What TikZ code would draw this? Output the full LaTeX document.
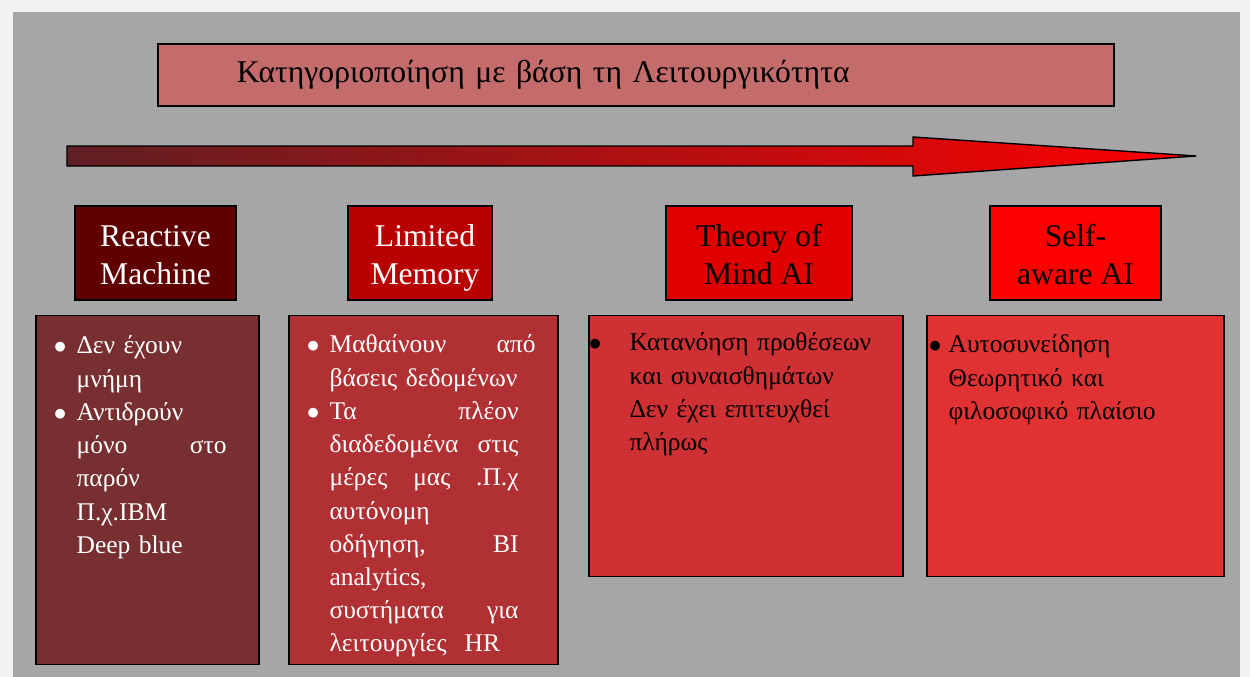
\documentclass[tikz,border=0pt]{standalone}
\usepackage{fontspec}
\setmainfont{Liberation Serif}
\usetikzlibrary{positioning}
\definecolor{pagebg}{RGB}{242,242,242}
\definecolor{canvas}{RGB}{166,166,166}
\definecolor{titlebg}{RGB}{196,107,107}
\definecolor{arrowdark}{RGB}{95,31,35}
\definecolor{kind1}{RGB}{96,0,0}
\definecolor{kind2}{RGB}{184,0,0}
\definecolor{kind3}{RGB}{224,0,0}
\definecolor{kind4}{RGB}{255,0,0}
\definecolor{panel1}{RGB}{119,47,49}
\definecolor{panel2}{RGB}{176,48,51}
\definecolor{panel3}{RGB}{207,48,51}
\definecolor{panel4}{RGB}{224,49,51}
\newcommand{\itm}[1]{\makebox[0pt][r]{$\bullet$\hspace{#1}}}
\newcommand{\twolines}[2]{\rule{0pt}{18pt}#1\\#2\rule[-3.8pt]{0pt}{3.8pt}}

\begin{document}
\begin{tikzpicture}[
    banner/.style={
        rectangle, draw=black, line width=1.1pt, fill=titlebg,
        minimum height=1.24cm, text width=15.96cm, inner xsep=1.58cm, inner ysep=0pt,
        align=left, font=\fontsize{18}{22}\selectfont
    },
    kind/.style={
        rectangle, draw=black, line width=1.1pt, minimum height=1.88cm,
        inner sep=0pt, align=center, font=\fontsize{18}{22}\selectfont
    },
    panel/.style={
        rectangle, draw=black, line width=0.85pt, inner sep=0pt
    },
    notes/.style={
        anchor=base west, inner sep=0pt, align=left, font=\fontsize{14.5}{18.9}\selectfont
    }
]

% Background
\fill[pagebg] (0,0) rectangle (25,-13.54);
\fill[canvas] (0.26,-0.24) rectangle (24.8,-13.54);

% Title
\node[banner, anchor=north west] (title) at (3.14,-0.86) {Κατηγοριοποίηση με βάση τη Λειτουργικότητα};

% Big arrow
\shade[left color=arrowdark, right color=kind4, draw=black, line width=0.8pt]
    (1.34,-2.92) -- (18.26,-2.92) -- (18.26,-2.74) -- (23.92,-3.12)
    -- (18.26,-3.52) -- (18.26,-3.32) -- (1.34,-3.32) -- cycle;

% Categories
\node[kind, fill=kind1, text=white, minimum width=3.22cm] (reactive) at (3.11,-5.06) {\twolines{Reactive}{Machine}};
\node[kind, fill=kind2, text=white, minimum width=2.88cm] (limited) at (8.4,-5.06) {\twolines{\kern0.2cm Limited}{\kern0.2cm Memory}};
\node[kind, fill=kind3, minimum width=3.72cm] (theory) at (15.18,-5.06) {\twolines{Theory of}{Mind AI}};
\node[kind, fill=kind4, minimum width=3.42cm] (selfaware) at (21.51,-5.06) {\twolines{Self-}{aware AI}};

% Panels
\node[panel, fill=panel1, minimum width=4.46cm, minimum height=6.98cm, below=0.28cm of reactive, xshift=-0.16cm] (p1) {};
\node[panel, fill=panel2, minimum width=5.38cm, minimum height=6.98cm, below=0.28cm of limited, xshift=0.07cm] (p2) {};
\node[panel, fill=panel3, minimum width=6.28cm, minimum height=5.22cm, below=0.28cm of theory, xshift=-0.26cm] (p3) {};
\node[panel, fill=panel4, minimum width=5.94cm, minimum height=5.22cm, below=0.28cm of selfaware] (p4) {};

% Panel texts
\node[notes, text=white, text width=3cm] (n1) at ([shift={(0.82,-0.78)}]p1.north west) {%
\itm{0.2cm}Δεν έχουν\\
μνήμη\\
\itm{0.2cm}Αντιδρούν\\
μόνο\hfill στο\\
παρόν\\
Π.χ.IBM\\
Deep blue};
\node[notes, text=white, text width=3.78cm] (n2) at ([shift={(0.82,-0.76)}]p2.north west) {%
\itm{0.2cm}Μαθαίνουν\hfill από\kern-0.34cm\\
βάσεις δεδομένων\\
\itm{0.2cm}Τα\hfill πλέον\\
διαδεδομένα\hfill στις\\
μέρες\hfill μας\hfill .Π.χ\\
αυτόνομη\\
οδήγηση,\hfill BI\\
analytics,\\
συστήματα\hfill για\\
λειτουργίες\hspace{0.36cm}HR};
\node[notes, text width=5.3cm] (n3) at ([shift={(0.82,-0.72)}]p3.north west) {%
\itm{0.56cm}Κατανόηση προθέσεων\\
και συναισθημάτων\\
Δεν έχει επιτευχθεί\\
πλήρως};
\node[notes, text width=5.3cm] (n4) at ([shift={(0.44,-0.76)}]p4.north west) {%
\itm{0.14cm}Αυτοσυνείδηση\\
Θεωρητικό και\\
φιλοσοφικό πλαίσιο};

\end{tikzpicture}
\end{document}
